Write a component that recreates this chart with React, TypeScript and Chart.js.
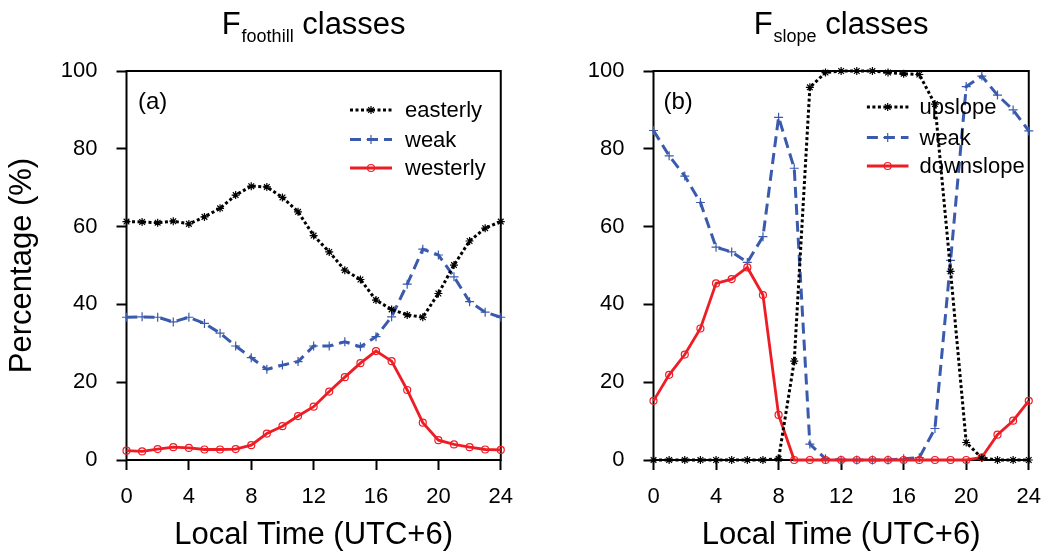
import React, { useEffect, useRef } from 'react';
import { Chart, registerables } from 'chart.js';

Chart.register(...registerables);

// ---------- data ----------
const hours = [0, 1, 2, 3, 4, 5, 6, 7, 8, 9, 10, 11, 12, 13, 14, 15, 16, 17, 18, 19, 20, 21, 22, 23, 24];

// Panel (a): F_foothill classes
const easterly = [61.3, 61.2, 61.0, 61.4, 60.7, 62.5, 64.7, 68.1, 70.4, 70.2, 67.5, 63.8, 57.7, 53.5, 48.8, 46.4, 41.1, 38.7, 37.3, 36.7, 42.8, 50.1, 56.3, 59.6, 61.3];
const weakFoothill = [36.7, 36.8, 36.7, 35.5, 36.7, 35.1, 32.6, 29.3, 26.3, 23.3, 24.4, 25.3, 29.3, 29.3, 30.4, 29.1, 31.7, 36.8, 45.2, 54.2, 52.7, 47.1, 40.7, 38.0, 36.7];
const westerly = [2.4, 2.2, 2.8, 3.3, 3.1, 2.7, 2.7, 2.8, 3.8, 6.8, 8.7, 11.3, 13.7, 17.6, 21.3, 24.9, 28.0, 25.4, 18.0, 9.6, 5.1, 4.0, 3.3, 2.7, 2.6];

// Panel (b): F_slope classes
const upslope = [0, 0, 0, 0, 0, 0, 0, 0, 0.3, 25.4, 95.8, 99.6, 100, 100, 100, 99.6, 99.3, 99.1, 91.5, 48.5, 4.5, 0.5, 0, 0, 0];
const weakSlope = [84.7, 78.2, 73.0, 66.2, 54.7, 53.5, 50.8, 57.4, 88.1, 75.0, 4.1, 0.3, 0, 0, 0, 0, 0.3, 0.6, 8.1, 51.3, 96.0, 98.7, 93.8, 90.0, 84.6];
const downslope = [15.2, 21.9, 27.1, 33.8, 45.4, 46.5, 49.5, 42.4, 11.6, 0, 0, 0, 0, 0, 0, 0, 0, 0, 0, 0, 0, 0.7, 6.5, 10.1, 15.2];

const labelsA = ['easterly', 'weak', 'westerly'];
const labelsB = ['upslope', 'weak', 'downslope'];

// ---------- styles ----------
const FONT = '"Liberation Sans", Arial, Helvetica, sans-serif';
const STYLES = [
  { color: '#000000', dash: [3, 2.5], width: 3, point: 'star', radius: 4, order: 0 },
  { color: '#3a5aad', dash: [11, 6], width: 3, point: 'cross', radius: 4.5, order: 2 },
  { color: '#ee1d25', dash: [] as number[], width: 2.8, point: 'circle', radius: 3.5, order: 1 },
];

function drawMarker(ctx: CanvasRenderingContext2D, kind: string, x: number, y: number, r: number, color: string) {
  ctx.save();
  ctx.setLineDash([]);
  ctx.strokeStyle = color;
  ctx.lineWidth = 1.2;
  ctx.beginPath();
  if (kind === 'circle') {
    ctx.arc(x, y, r, 0, Math.PI * 2);
  } else {
    ctx.moveTo(x - r, y); ctx.lineTo(x + r, y);
    ctx.moveTo(x, y - r); ctx.lineTo(x, y + r);
    if (kind === 'star') {
      const d = r * 0.707;
      ctx.moveTo(x - d, y - d); ctx.lineTo(x + d, y + d);
      ctx.moveTo(x - d, y + d); ctx.lineTo(x + d, y - d);
    }
  }
  ctx.stroke();
  ctx.restore();
}

const decorPlugin = {
  id: 'panelDecor',
  beforeDatasetsDraw(chart: any) {
    const { ctx, chartArea: a } = chart;
    ctx.save();
    ctx.strokeStyle = '#000';
    ctx.lineWidth = 2;
    ctx.setLineDash([]);
    ctx.strokeRect(a.left, a.top, a.right - a.left, a.bottom - a.top);
    ctx.restore();
  },
  afterDatasetsDraw(chart: any, _args: any, opts: any) {
    const { ctx, chartArea: a } = chart;
    ctx.save();
    // panel tag
    ctx.fillStyle = '#000';
    ctx.font = `24px ${FONT}`;
    ctx.textBaseline = 'middle';
    ctx.textAlign = 'left';
    ctx.fillText(opts.tag, a.left + opts.tagDx, 102);
    // legend
    ctx.font = `22px ${FONT}`;
    opts.labels.forEach((lab: string, i: number) => {
      const s = STYLES[i];
      const y = opts.legendY[i];
      const x0 = a.left + opts.lineX0;
      const x1 = a.left + opts.lineX1;
      ctx.save();
      ctx.strokeStyle = s.color;
      ctx.lineWidth = s.width;
      ctx.setLineDash(s.dash);
      ctx.beginPath();
      ctx.moveTo(x0, y);
      ctx.lineTo(x1, y);
      ctx.stroke();
      ctx.restore();
      drawMarker(ctx, s.point, (x0 + x1) / 2, y, s.radius, s.color);
      ctx.fillStyle = '#000';
      ctx.fillText(lab, a.left + opts.textX, y + 1);
    });
    ctx.restore();
  },
  afterDraw(chart: any, _args: any, opts: any) {
    const { ctx, chartArea: a } = chart;
    ctx.save();
    ctx.fillStyle = '#000';
    ctx.textBaseline = 'alphabetic';
    ctx.textAlign = 'left';
    const big = `31px ${FONT}`;
    const small = `18px ${FONT}`;
    ctx.font = big;
    const w1 = ctx.measureText(opts.main).width;
    const w3 = ctx.measureText(opts.rest).width;
    ctx.font = small;
    const w2 = ctx.measureText(opts.sub).width;
    const cx = (a.left + a.right) / 2;
    let x = cx - (w1 + w2 + w3 + 1) / 2;
    ctx.font = big;
    ctx.fillText(opts.main, x, 34);
    x += w1;
    ctx.font = small;
    ctx.fillText(opts.sub, x + 1, 42);
    x += w2 + 1;
    ctx.font = big;
    ctx.fillText(opts.rest, x, 34);
    ctx.restore();
  },
};

type PanelProps = {
  left: number;
  width: number;
  series: number[][];
  labels: string[];
  showYTitle: boolean;
  decor: any;
};

function Panel({ left, width, series, labels, showYTitle, decor }: PanelProps) {
  const ref = useRef<HTMLCanvasElement | null>(null);
  useEffect(() => {
    if (!ref.current) return;
    const datasets = series.map((vals, i) => {
      const s = STYLES[i];
      return {
        label: labels[i],
        data: hours.map((h, k) => ({ x: h, y: vals[k] })),
        borderColor: s.color,
        borderWidth: s.width,
        borderDash: s.dash,
        pointStyle: s.point,
        pointRadius: s.radius,
        pointBorderColor: s.color,
        pointBackgroundColor: 'rgba(0,0,0,0)',
        pointBorderWidth: 1.2,
        tension: 0,
        clip: false as any,
        order: s.order,
      };
    });
    const chart = new Chart(ref.current, {
      type: 'line',
      data: { datasets },
      plugins: [decorPlugin],
      options: {
        animation: false,
        responsive: false,
        devicePixelRatio: 1,
        layout: { padding: { top: 71, right: 12, bottom: 0, left: 0 } },
        plugins: {
          legend: { display: false },
          tooltip: { enabled: false },
          title: { display: false },
          panelDecor: decor,
        } as any,
        scales: {
          x: {
            type: 'linear',
            min: 0,
            max: 24,
            afterFit: (s: any) => { s.height = 93; },
            border: { display: false },
            grid: { display: true, drawOnChartArea: false, tickLength: 10, tickWidth: 2, tickColor: '#000' },
            ticks: { stepSize: 4, color: '#000', font: { size: 22, family: FONT }, padding: 14, maxRotation: 0 },
            title: {
              display: true,
              text: 'Local Time (UTC+6)',
              color: '#000',
              font: { size: 31, family: FONT, lineHeight: 1.1 },
              padding: { top: 0, bottom: 0 },
            },
          },
          y: {
            min: 0,
            max: 100,
            afterFit: (s: any) => { s.width = 126.5; },
            border: { display: false },
            grid: { display: true, drawOnChartArea: false, tickLength: 10, tickWidth: 2, tickColor: '#000' },
            ticks: { stepSize: 20, color: '#000', font: { size: 22, family: FONT }, padding: 19 },
            title: {
              display: showYTitle,
              text: 'Percentage (%)',
              color: '#000',
              font: { size: 31, family: FONT, lineHeight: 1.1 },
              padding: { top: 5, bottom: 0 },
            },
          },
        },
      },
    });
    return () => chart.destroy();
  }, []);
  return (
    <canvas
      ref={ref}
      width={width}
      height={553}
      style={{ position: 'absolute', left, top: 0, width, height: 553 }}
    />
  );
}

export default function App() {
  return (
    <div style={{ position: 'absolute', left: 0, top: 0, width: 1055, height: 553, background: '#fff', overflow: 'hidden' }}>
      <Panel
        left={0}
        width={527}
        series={[easterly, weakFoothill, westerly]}
        labels={labelsA}
        showYTitle={true}
        decor={{
          main: 'F', sub: 'foothill', rest: ' classes', tag: '(a)', tagDx: 11.5,
          labels: labelsA, lineX0: 223.5, lineX1: 265.5, textX: 278.5, legendY: [110, 139.5, 168],
        }}
      />
      <Panel
        left={527}
        width={528}
        series={[upslope, weakSlope, downslope]}
        labels={labelsB}
        showYTitle={false}
        decor={{
          main: 'F', sub: 'slope', rest: ' classes', tag: '(b)', tagDx: 10,
          labels: labelsB, lineX0: 213.4, lineX1: 255, textX: 266, legendY: [107, 137.5, 166],
        }}
      />
    </div>
  );
}
